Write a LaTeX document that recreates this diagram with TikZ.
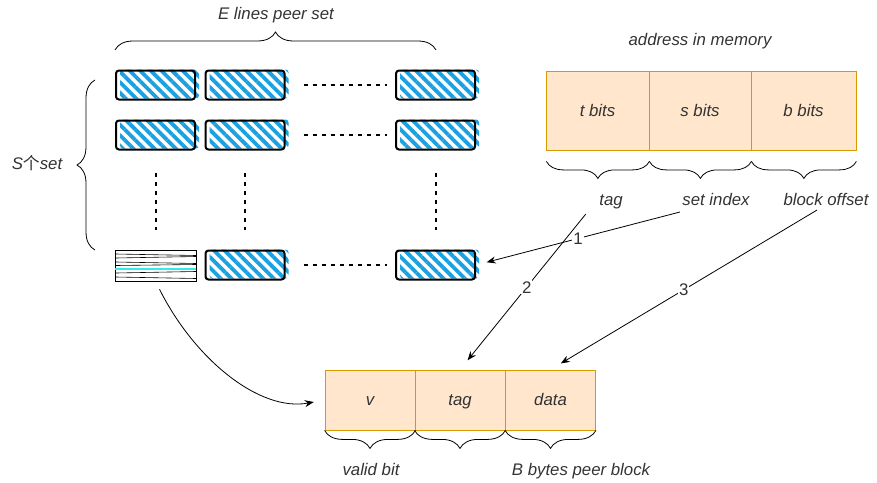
\documentclass[tikz,border=0pt]{standalone}
\usepackage{fontspec}
\setmainfont{Liberation Sans}
\newfontfamily\cjk{Noto Sans CJK SC}
\usetikzlibrary{patterns.meta,decorations.pathreplacing,arrows.meta}

\definecolor{hatch}{RGB}{27,161,226}
\definecolor{cellfill}{RGB}{255,230,204}
\definecolor{celldraw}{RGB}{215,155,0}
\definecolor{hitline}{RGB}{50,235,235}
\definecolor{ink}{RGB}{51,51,51}

\begin{document}
\begin{tikzpicture}[x=1pt,y=-1pt,
    font=\fontsize{16.8}{20}\selectfont\itshape, text=ink,
    every node/.append style={text height=14pt, text depth=3pt},
    cacheline/.style={draw, line width=2pt, rounded corners=3pt, inner sep=0pt,
      minimum width=79pt, minimum height=29pt,
      preaction={transform canvas={xshift=4pt,yshift=1pt},
        pattern={Lines[angle=-45,distance=7.5pt,line width=3.8pt]}, pattern color=hatch}},
    cell/.style={draw=celldraw, fill=cellfill, line width=.8pt, inner sep=0pt,
      text height=14pt, text depth=3pt},
    dotline/.style={line width=2pt, dash pattern=on 4pt off 5pt},
    bracket/.style={decorate, decoration={brace,amplitude=18pt}, line width=.8pt},
    link/.style={line width=.8pt, -{Stealth[length=9pt,width=7pt]}}]

  \useasboundingbox (0,0) rectangle (877,482);

  % cache lines
  \begin{scope}[every node/.style={cacheline}]
    \node (a1) at (155.5,85)  {};
    \node (b1) at (245,85)    {};
    \node (e1) at (435.5,85)  {};
    \node (a2) at (155.5,135) {};
    \node (b2) at (245,135)   {};
    \node (e2) at (435.5,135) {};
    \node (b3) at (245,265)   {};
    \node (e3) at (435.5,265) {};
  \end{scope}

  \node[draw, line width=.6pt, minimum width=81pt, minimum height=31pt, inner sep=0pt] (hit) at (155.5,265.5) {};
  \foreach \y/\d in {254/1.5, 258/-1.5, 262/1.5, 265.5/-1, 273/-1.5, 277/1.5}
    \draw[line width=.6pt] (116,\y) -- (196,\y+\d);
  \draw[hitline, line width=2.2pt] ([yshift=-3.5pt]hit.west) -- ([yshift=-3.5pt]hit.east);

  \begin{scope}[every edge/.style={draw, dotline}]
    \path (b1) edge[shorten <=18pt, shorten >=8pt] (e1);
    \path (b2) edge[shorten <=18pt, shorten >=8pt] (e2);
    \path (b3) edge[shorten <=18pt, shorten >=8pt] (e3);
    \path (a2) edge[shorten <=22pt, shorten >=20pt] (hit);
    \path (b2) edge[shorten <=22pt, shorten >=20pt] (b3);
    \path (e2) edge[shorten <=22pt, shorten >=20pt] (e3);
  \end{scope}

  \draw[bracket] (115,50) -- (436,50);
  \node (ways) at (276,14) {E lines peer set};
  \draw[bracket] (95,250) -- (95,80);
  \node (sets) at (37,164) {S{\cjk 个}set};

  % address in memory
  \node (addr) at (700,40) {address in memory};
  \begin{scope}[every node/.style={cell, minimum height=79pt}]
    \node[minimum width=103pt] (tbits) at (597.5,110.5) {t bits};
    \node[minimum width=102pt] (sbits) at (700,110.5)   {s bits};
    \node[minimum width=105pt] (bbits) at (803.5,110.5) {b bits};
  \end{scope}
  \draw[bracket, decoration={amplitude=17pt}] (tbits.south east) ++(0,11) -- ++(-103,0);
  \draw[bracket, decoration={amplitude=17pt}] (sbits.south east) ++(0,11) -- ++(-102,0);
  \draw[bracket, decoration={amplitude=17pt}] (bbits.south east) ++(0,11) -- ++(-105,0);
  \node (tag)     at (611,200) {tag};
  \node (setidx)  at (716,200) {set index};
  \node (blockof) at (826,200) {block offset};

  % one line of the cache
  \begin{scope}[every node/.style={cell, minimum height=60pt, minimum width=90pt}]
    \node (valid)   at (370,400)   {v};
    \node (tagcell) at (460,400)   {tag};
    \node (data)    at (550.5,400) {data};
  \end{scope}
  \draw[bracket] (valid.south east) -- (valid.south west);
  \draw[bracket] (tagcell.south east) -- (tagcell.south west);
  \draw[bracket] (data.south east) -- (data.south west);
  \node (vbit)  at (371,470) {valid bit};
  \node (bytes) at (581,470) {B bytes peer block};

  \begin{scope}[every node/.style={fill=white, inner sep=1pt, font=\fontsize{16.8}{20}\selectfont}]
    \path[link] ([xshift=1pt]setidx.south west) edge[shorten >=11pt] node {1} (e3.east);
    \path[link] ([xshift=-10pt,yshift=-2pt]tag.south west) edge[shorten >=12pt] node[pos=.47] {2} (tagcell.north);
    \path[link] ([xshift=-9pt,yshift=2pt]blockof.south) edge[shorten >=12pt] node {3} (data.north);
  \end{scope}
  \draw[link, shorten <=9pt, shorten >=11pt] (hit.south) .. controls (195,360) and (260,412) .. (valid.west);

\end{tikzpicture}
\end{document}
